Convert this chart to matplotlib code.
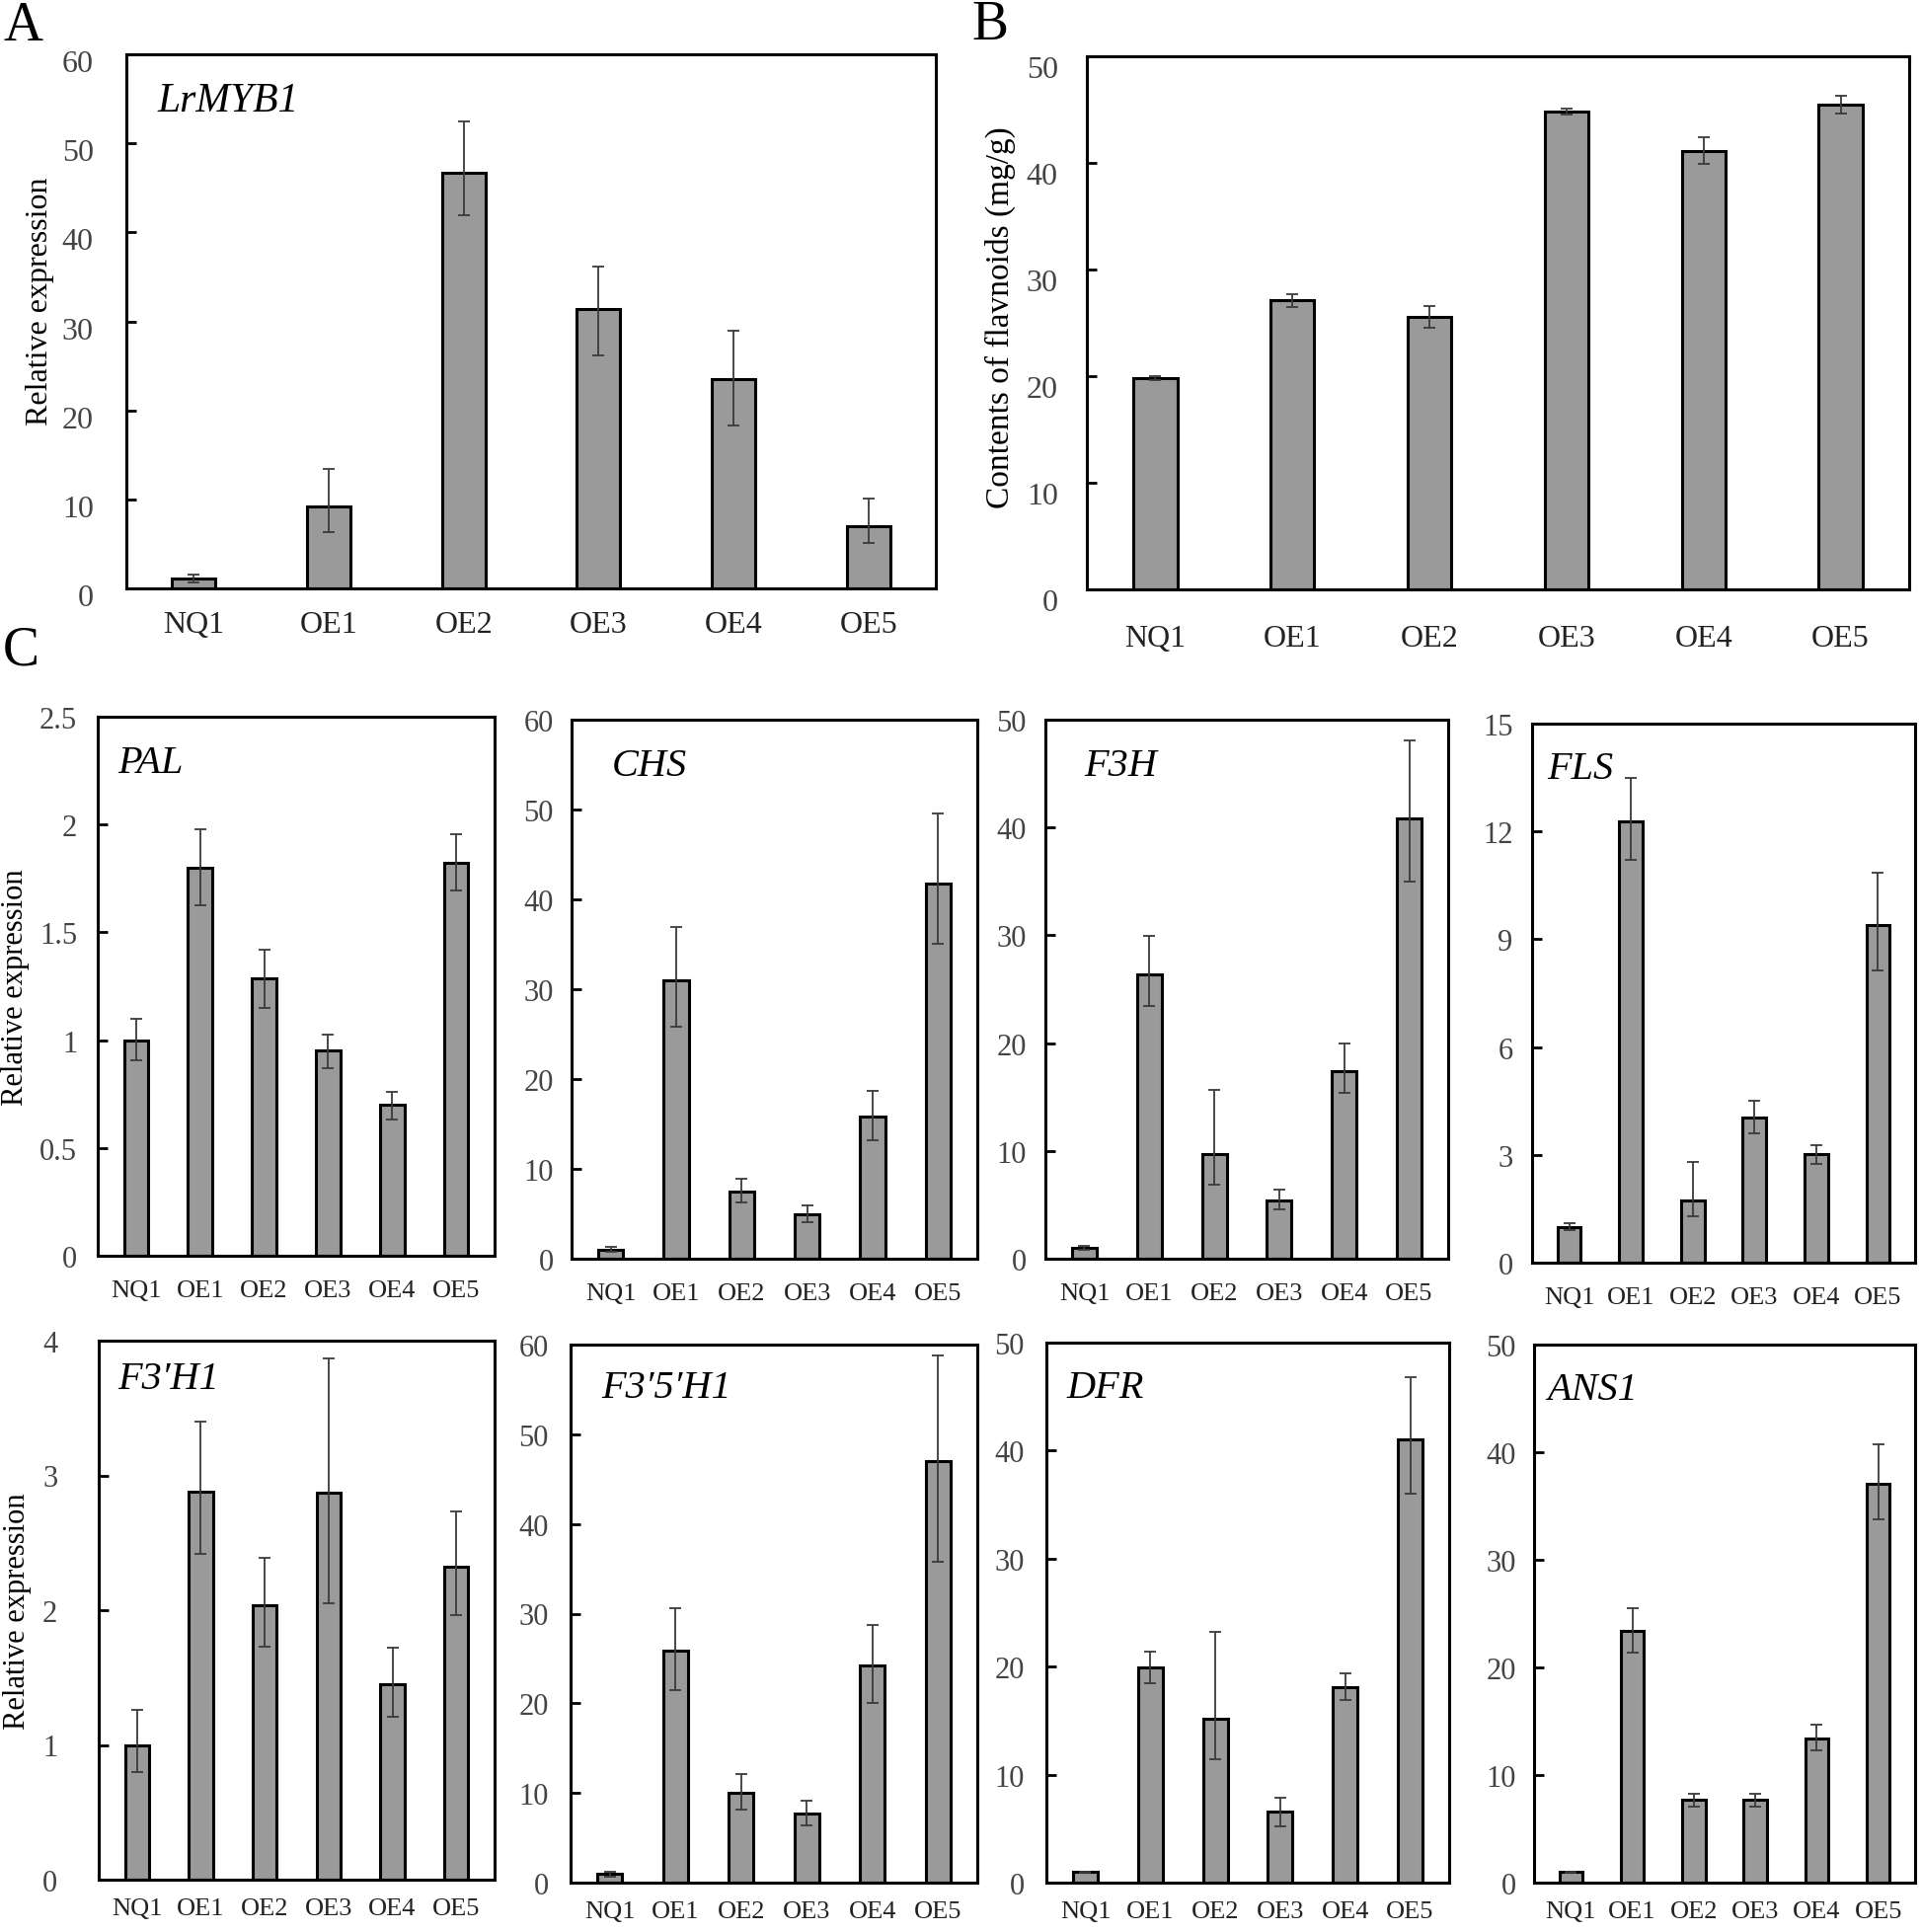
import matplotlib
matplotlib.use("Agg")
import matplotlib.pyplot as plt
import matplotlib.transforms as mtransforms
import numpy as np

plt.rcParams['font.family'] = ['Liberation Serif', 'DejaVu Serif']

categories = ["NQ1", "OE1", "OE2", "OE3", "OE4", "OE5"]

# Panel A: LrMYB1 relative expression
A_vals = [1.1, 9.2, 46.7, 31.4, 23.5, 7.0]
A_hi = [1.5, 13.4, 52.5, 36.2, 29.0, 10.1]
A_lo = [0.7, 6.3, 41.9, 26.2, 18.3, 5.1]

# Panel B: flavonoid content (mg/g)
B_vals = [19.8, 27.1, 25.6, 44.8, 41.1, 45.5]
B_hi = [20.0, 27.7, 26.6, 45.1, 42.4, 46.3]
B_lo = [19.6, 26.5, 24.5, 44.5, 39.9, 44.6]

# Panel C genes
PAL_vals = [1.0, 1.80, 1.285, 0.952, 0.70, 1.823]
PAL_hi = [1.10, 1.976, 1.42, 1.027, 0.76, 1.956]
PAL_lo = [0.905, 1.625, 1.148, 0.868, 0.634, 1.692]

CHS_vals = [1.03, 31.0, 7.5, 5.0, 15.8, 41.8]
CHS_hi = [1.35, 36.9, 8.9, 5.9, 18.7, 49.6]
CHS_lo = [0.75, 25.8, 6.3, 4.1, 13.2, 35.1]

F3H_vals = [1.0, 26.4, 9.7, 5.4, 17.4, 40.8]
F3H_hi = [1.2, 29.9, 15.7, 6.4, 20.0, 48.1]
F3H_lo = [0.8, 23.4, 6.9, 4.6, 15.4, 35.0]

FLS_vals = [1.0, 12.28, 1.74, 4.05, 3.02, 9.39]
FLS_hi = [1.11, 13.49, 2.79, 4.5, 3.27, 10.84]
FLS_lo = [0.91, 11.2, 1.28, 3.59, 2.76, 8.14]

F3pH1_vals = [1.0, 2.88, 2.04, 2.87, 1.45, 2.32]
F3pH1_hi = [1.26, 3.40, 2.39, 3.87, 1.72, 2.73]
F3pH1_lo = [0.80, 2.42, 1.73, 2.05, 1.21, 1.96]

F35H1_vals = [0.94, 25.9, 10.0, 7.66, 24.2, 47.0]
F35H1_hi = [1.25, 30.6, 12.1, 9.1, 28.7, 58.75]
F35H1_lo = [0.65, 21.45, 8.15, 6.36, 20.0, 35.8]

DFR_vals = [1.0, 19.94, 15.2, 6.62, 18.1, 41.0]
DFR_hi = [1.05, 21.4, 23.25, 7.9, 19.35, 46.8]
DFR_lo = [0.95, 18.5, 11.46, 5.25, 16.9, 36.05]

ANS1_vals = [0.97, 23.4, 7.7, 7.7, 13.4, 37.1]
ANS1_hi = [1.05, 25.5, 8.3, 8.3, 14.65, 40.75]
ANS1_lo = [0.9, 21.4, 7.1, 7.1, 12.3, 33.8]

W, H = 1946, 1958
fig = plt.figure(figsize=(W / 100, H / 100), dpi=100)


def px_axes(l, t, r, b):
    return fig.add_axes([l / W, 1 - b / H, (r - l) / W, (b - t) / H])


BAR_C = "#9a9a9a"
TICK_C = "#444444"


def draw(ax, vals, hi, lo, ymax, step, label, label_xy, label_size,
         bar_w, xmargin, tick_size, xlab_size, xpad, ypad, ydrop=0):
    x = np.arange(len(categories))
    v = np.array(vals)
    yerr = np.vstack([v - np.array(lo), np.array(hi) - v])
    ax.bar(x, v, width=bar_w, color=BAR_C, edgecolor="black", linewidth=2.2, zorder=2)
    ax.errorbar(x, v, yerr=yerr, fmt="none", ecolor="#3a3a3a", elinewidth=1.3,
                capsize=4.5, capthick=1.3, zorder=3)
    ax.set_xlim(-xmargin, len(categories) - 1 + xmargin)
    ax.set_ylim(0, ymax)
    ticks = np.arange(0, ymax + step / 2, step)
    ax.set_yticks(ticks)
    ax.set_yticklabels(["%g" % t for t in ticks], fontsize=tick_size, color=TICK_C)
    ax.set_xticks(x)
    ax.set_xticklabels(categories, fontsize=xlab_size, color="#222222")
    ax.tick_params(axis="x", length=0, pad=xpad)
    ax.tick_params(axis="y", length=7, width=2, direction="in", pad=ypad,
                   colors="black", labelcolor=TICK_C)
    for s in ax.spines.values():
        s.set_linewidth(2.2)
        s.set_color("black")
    if ydrop:
        off = mtransforms.ScaledTranslation(0, -ydrop / 100.0, fig.dpi_scale_trans)
        for lab in ax.get_yticklabels():
            lab.set_transform(lab.get_transform() + off)
    if label:
        ax.text(label_xy[0], label_xy[1], label, transform=ax.transAxes, style="italic",
                fontsize=label_size, ha="left", va="center")


def ylab(ax, text, size, x_px, left_px, width_px, yfrac):
    ax.set_ylabel(text, fontsize=size, va="center", ha="center")
    ax.yaxis.set_label_coords((x_px - left_px) / width_px, yfrac)


# Panel A
axA = px_axes(128, 56, 948, 597)
draw(axA, A_vals, A_hi, A_lo, 60, 10, "LrMYB1", (0.038, 0.913), 30,
     0.32, 0.5, 23, 23, 16, 24, ydrop=6)
ylab(axA, "Relative expression", 23, 41, 128, 820, 0.54)

# Panel B
axB = px_axes(1101, 58, 1934, 598)
draw(axB, B_vals, B_hi, B_lo, 50, 10, "", (0.04, 0.9), 28,
     0.32, 0.5, 23, 23, 25, 21, ydrop=10)
ylab(axB, "Contents of flavnoids (mg/g)", 24, 1013, 1101, 833, 0.511)

# Panel C, row 1
row1 = [
    ((99, 727, 501, 1273), PAL_vals, PAL_hi, PAL_lo, 2.5, 0.5, "PAL", (0.05, 0.914), 15),
    ((579, 730, 990, 1276), CHS_vals, CHS_hi, CHS_lo, 60, 10, "CHS", (0.10, 0.914), 13),
    ((1059, 730, 1467, 1276), F3H_vals, F3H_hi, F3H_lo, 50, 10, "F3H", (0.095, 0.914), 14),
    ((1552, 734, 1940, 1280), FLS_vals, FLS_hi, FLS_lo, 15, 3, "FLS", (0.04, 0.916), 14),
]
row2 = [
    ((100, 1359, 501, 1905), F3pH1_vals, F3pH1_hi, F3pH1_lo, 4, 1, "F3\u2032H1", (0.047, 0.93), 30),
    ((578, 1363, 990, 1908), F35H1_vals, F35H1_hi, F35H1_lo, 60, 10, "F3\u20325\u2032H1", (0.076, 0.92), 16),
    ((1060, 1361, 1468, 1908), DFR_vals, DFR_hi, DFR_lo, 50, 10, "DFR", (0.05, 0.917), 16),
    ((1554, 1363, 1940, 1908), ANS1_vals, ANS1_hi, ANS1_lo, 50, 10, "ANS1", (0.034, 0.917), 13),
]

for i, (box, v, hi, lo, ymax, step, lab, lxy, ypad) in enumerate(row1):
    ax = px_axes(*box)
    draw(ax, v, hi, lo, ymax, step, lab, lxy, 29, 0.38, 0.6, 22, 19, 17, ypad)
    if i == 0:
        ylab(ax, "Relative expression", 22, 16, box[0], box[2] - box[0], 0.5)

for i, (box, v, hi, lo, ymax, step, lab, lxy, ypad) in enumerate(row2):
    ax = px_axes(*box)
    draw(ax, v, hi, lo, ymax, step, lab, lxy, 29, 0.38, 0.6, 22, 19, 13, ypad)
    if i == 0:
        ylab(ax, "Relative expression", 22, 18, box[0], box[2] - box[0], 0.5)

# Panel letters
fig.text(4 / W, 1 - 27 / H, "A", fontsize=40, va="center", ha="left")
fig.text(984 / W, 1 - 26 / H, "B", fontsize=40, va="center", ha="left")
fig.text(3 / W, 1 - 660 / H, "C", fontsize=40, va="center", ha="left")

fig.savefig("out.png", dpi=100)
